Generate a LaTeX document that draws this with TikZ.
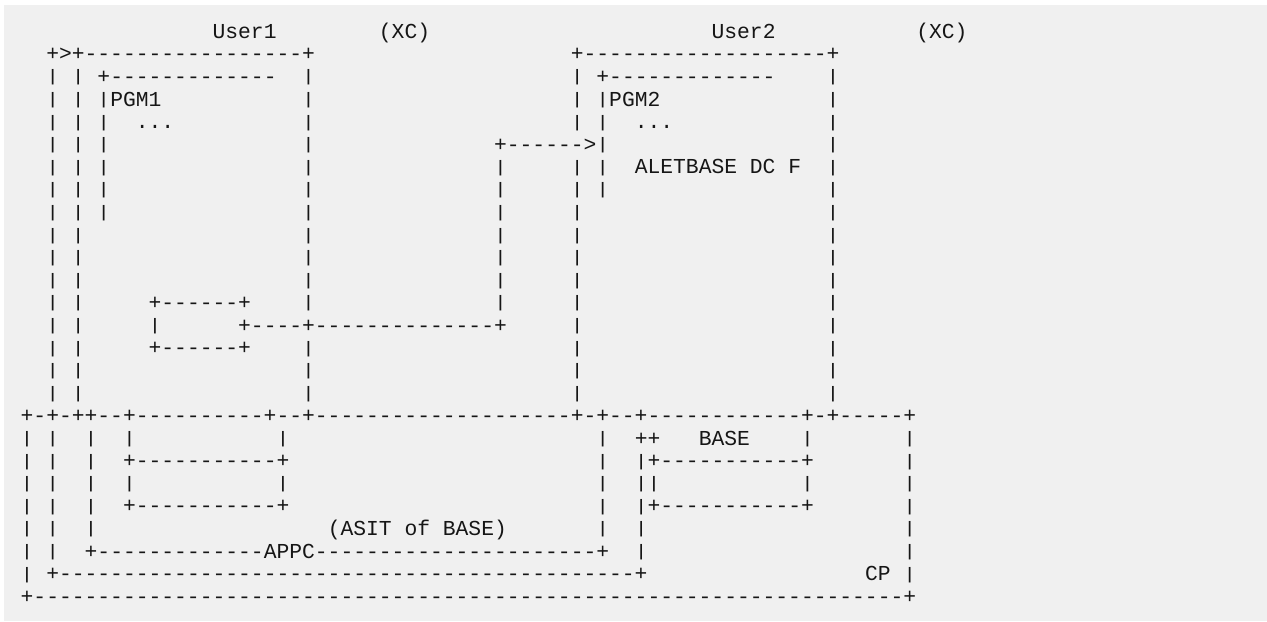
\documentclass[tikz,border=0pt]{standalone}
\usepackage{graphicx}
\usepackage{fontspec}
\setmonofont{Liberation Mono}
\ExplSyntaxOn
\NewDocumentCommand\dd{m}{\prg_replicate:nn{#1}{-}}
\ExplSyntaxOff
\newcommand\sk[1]{\hspace*{#1\fontcharwd\font`x}}
\newcommand\vb{\raisebox{0.07em}{\scalebox{1}[0.78]{|}}}
\definecolor{bg}{RGB}{240,240,240}
\definecolor{ink}{RGB}{22,22,22}
\tikzset{
  row/.style={anchor=base west, inner sep=0pt, text=ink,
    font=\ttfamily\fontsize{10.66}{12}\selectfont}
}
\begin{document}
\begin{tikzpicture}[x=0.5pt,y=-0.5pt]
\useasboundingbox (0,0) rectangle (1267,621);
\fill[bg] (4,5) rectangle (1267,621);
\node[row] (l0)  at (20.3,38.2)  {\sk{15}User1\sk{8}(XC)\sk{22}User2\sk{11}(XC)};
\node[row] (l1)  at (20.3,60.8)  {\sk{2}+>+\dd{17}+\sk{20}+\dd{19}+};
\node[row] (l2)  at (20.3,83.4)  {\sk{2}\vb\sk{1}\vb\sk{1}+\dd{13}\sk{2}\vb\sk{20}\vb\sk{1}+\dd{13}\sk{4}\vb};
\node[row] (l3)  at (20.3,106.0) {\sk{2}\vb\sk{1}\vb\sk{1}\vb PGM1\sk{11}\vb\sk{20}\vb\sk{1}\vb PGM2\sk{13}\vb};
\node[row] (l4)  at (20.3,128.6) {\sk{2}\vb\sk{1}\vb\sk{1}\vb\sk{2}...\sk{10}\vb\sk{20}\vb\sk{1}\vb\sk{2}...\sk{12}\vb};
\node[row] (l5)  at (20.3,151.2) {\sk{2}\vb\sk{1}\vb\sk{1}\vb\sk{15}\vb\sk{14}+\dd{6}>\vb\sk{17}\vb};
\node[row] (l6)  at (20.3,173.8) {\sk{2}\vb\sk{1}\vb\sk{1}\vb\sk{15}\vb\sk{14}\vb\sk{5}\vb\sk{1}\vb\sk{2}ALETBASE\sk{1}DC\sk{1}F\sk{2}\vb};
\node[row] (l7)  at (20.3,196.4) {\sk{2}\vb\sk{1}\vb\sk{1}\vb\sk{15}\vb\sk{14}\vb\sk{5}\vb\sk{1}\vb\sk{17}\vb};
\node[row] (l8)  at (20.3,219.0) {\sk{2}\vb\sk{1}\vb\sk{1}\vb\sk{15}\vb\sk{14}\vb\sk{5}\vb\sk{19}\vb};
\node[row] (l9)  at (20.3,241.6) {\sk{2}\vb\sk{1}\vb\sk{17}\vb\sk{14}\vb\sk{5}\vb\sk{19}\vb};
\node[row] (l10) at (20.3,264.2) {\sk{2}\vb\sk{1}\vb\sk{17}\vb\sk{14}\vb\sk{5}\vb\sk{19}\vb};
\node[row] (l11) at (20.3,286.8) {\sk{2}\vb\sk{1}\vb\sk{17}\vb\sk{14}\vb\sk{5}\vb\sk{19}\vb};
\node[row] (l12) at (20.3,309.4) {\sk{2}\vb\sk{1}\vb\sk{5}+\dd{6}+\sk{4}\vb\sk{14}\vb\sk{5}\vb\sk{19}\vb};
\node[row] (l13) at (20.3,332.0) {\sk{2}\vb\sk{1}\vb\sk{5}\vb\sk{6}+\dd{4}+\dd{14}+\sk{5}\vb\sk{19}\vb};
\node[row] (l14) at (20.3,354.6) {\sk{2}\vb\sk{1}\vb\sk{5}+\dd{6}+\sk{4}\vb\sk{20}\vb\sk{19}\vb};
\node[row] (l15) at (20.3,377.2) {\sk{2}\vb\sk{1}\vb\sk{17}\vb\sk{20}\vb\sk{19}\vb};
\node[row] (l16) at (20.3,399.8) {\sk{2}\vb\sk{1}\vb\sk{17}\vb\sk{20}\vb\sk{19}\vb};
\node[row] (l17) at (20.3,422.4) {+\dd{1}+\dd{1}++\dd{2}+\dd{10}+\dd{2}+\dd{20}+\dd{1}+\dd{2}+\dd{12}+\dd{1}+\dd{5}+};
\node[row] (l18) at (20.3,445.0) {\vb\sk{1}\vb\sk{2}\vb\sk{2}\vb\sk{11}\vb\sk{24}\vb\sk{2}++\sk{3}BASE\sk{4}\vb\sk{7}\vb};
\node[row] (l19) at (20.3,467.6) {\vb\sk{1}\vb\sk{2}\vb\sk{2}+\dd{11}+\sk{24}\vb\sk{2}\vb+\dd{11}+\sk{7}\vb};
\node[row] (l20) at (20.3,490.2) {\vb\sk{1}\vb\sk{2}\vb\sk{2}\vb\sk{11}\vb\sk{24}\vb\sk{2}\vb\vb\sk{11}\vb\sk{7}\vb};
\node[row] (l21) at (20.3,512.8) {\vb\sk{1}\vb\sk{2}\vb\sk{2}+\dd{11}+\sk{24}\vb\sk{2}\vb+\dd{11}+\sk{7}\vb};
\node[row] (l22) at (20.3,535.4) {\vb\sk{1}\vb\sk{2}\vb\sk{18}(ASIT\sk{1}of\sk{1}BASE)\sk{7}\vb\sk{2}\vb\sk{20}\vb};
\node[row] (l23) at (20.3,558.0) {\vb\sk{1}\vb\sk{2}+\dd{13}APPC\dd{22}+\sk{2}\vb\sk{20}\vb};
\node[row] (l24) at (20.3,580.6) {\vb\sk{1}+\dd{45}+\sk{17}CP\sk{1}\vb};
\node[row] (l25) at (20.3,603.2) {+\dd{68}+};
\end{tikzpicture}
\end{document}
